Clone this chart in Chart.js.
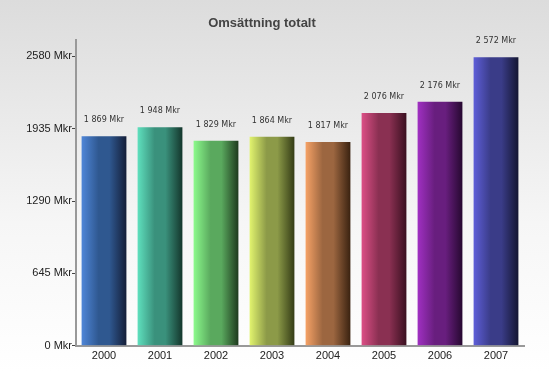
<!DOCTYPE html>
<html>
<head>
<meta charset="utf-8">
<script src="https://cdn.jsdelivr.net/npm/chart.js@4/dist/chart.umd.min.js"></script>
<style>
    html, body { margin: 0; padding: 0; }
    body { width: 549px; height: 372px; background: #fff; }
    #wrap { position: relative; width: 549px; height: 372px; }
</style>
</head>
<body>
<div id="wrap"><canvas id="omsChart"></canvas></div>
<script>
const years = ["2000", "2001", "2002", "2003", "2004", "2005", "2006", "2007"];
const revenue = [1869, 1948, 1829, 1864, 1817, 2076, 2176, 2572];
const yTicks = [0, 645, 1290, 1935, 2580];
// ljus, mellan, mörk färg för varje stapel
const lightColors = ["#4f86d8", "#5fe0be", "#8cfa8c", "#e2f46e", "#f6a266", "#dc4f86", "#a030c2", "#5e5ed8"];
const midColors = ["#2f5890", "#3a917c", "#5aa95e", "#8c9a48", "#9c6640", "#8a3052", "#681e7e", "#3a3c88"];
const darkColors = ["#141e38", "#14362c", "#1e3a1e", "#343c16", "#3a2210", "#3a1020", "#260830", "#141632"];
const BAR_PCT = 0.8;

function fmt(v) {
    return String(v).replace(/\B(?=(\d{3})+(?!\d))/g, " ");
}

// bakgrund med grå toning
const bgPlugin = {
    id: "bg",
    beforeDraw(chart) {
        const c = chart.ctx;
        const g = c.createLinearGradient(0, 0, 0, chart.height);
        g.addColorStop(0, "#dcdcdc");
        g.addColorStop(0.6, "#f6f6f6");
        g.addColorStop(1, "#ffffff");
        c.save();
        c.fillStyle = g;
        c.fillRect(0, 0, chart.width, chart.height);
        c.restore();
    }
};

// etiketter ovanför staplarna
const labelPlugin = {
    id: "barLabels",
    afterDatasetsDraw(chart) {
        const c = chart.ctx;
        const meta = chart.getDatasetMeta(0);
        c.save();
        c.font = "8px 'DejaVu Sans'";
        c.fillStyle = "#333";
        c.textAlign = "center";
        c.textBaseline = "middle";
        meta.data.forEach((bar, i) => {
            c.fillText(fmt(revenue[i]) + " Mkr", bar.x, bar.y - 16);
        });
        c.restore();
    }
};

// horisontell toning i varje stapel
function barGradient(context) {
    const chart = context.chart;
    const i = context.dataIndex;
    const x = chart.scales.x;
    if (!x || !chart.chartArea) return midColors[i];
    const center = x.getPixelForValue(i);
    const half = (x.width / years.length) * BAR_PCT / 2;
    const g = chart.ctx.createLinearGradient(center - half, 0, center + half, 0);
    g.addColorStop(0, lightColors[i]);
    g.addColorStop(0.38, midColors[i]);
    g.addColorStop(0.62, midColors[i]);
    g.addColorStop(1, darkColors[i]);
    return g;
}

new Chart(document.getElementById("omsChart").getContext("2d"), {
    type: "bar",
    data: {
        labels: years,
        datasets: [{
            label: "Omsättning",
            data: revenue,
            backgroundColor: barGradient,
            borderWidth: 0,
            barPercentage: BAR_PCT,
            categoryPercentage: 1
        }]
    },
    options: {
        responsive: true,
        maintainAspectRatio: false,
        animation: false,
        layout: { padding: { left: 0, right: 25, top: 7, bottom: 5 } },
        plugins: {
            legend: { display: false },
            tooltip: { enabled: false },
            title: {
                display: true,
                text: "Omsättning totalt",
                color: "#444",
                font: { family: "'Liberation Sans'", size: 13, weight: "bold" },
                padding: { top: 9, bottom: 8 }
            }
        },
        scales: {
            x: {
                grid: { display: false, drawTicks: false },
                border: { color: "#999", width: 2 },
                ticks: {
                    color: "#222",
                    font: { family: "'Liberation Sans'", size: 11 },
                    padding: 4
                }
            },
            y: {
                min: 0,
                max: 2730,
                afterBuildTicks(axis) {
                    axis.ticks = yTicks.map(v => ({ value: v }));
                },
                grid: { drawOnChartArea: false, tickLength: 4, color: "#444" },
                border: { color: "#999", width: 2 },
                ticks: {
                    color: "#222",
                    font: { family: "'Liberation Sans'", size: 11 },
                    padding: 0,
                    callback: v => v + " Mkr"
                },
                afterFit(axis) { axis.width = 76; }
            }
        }
    },
    plugins: [bgPlugin, labelPlugin]
});
</script>
</body>
</html>
